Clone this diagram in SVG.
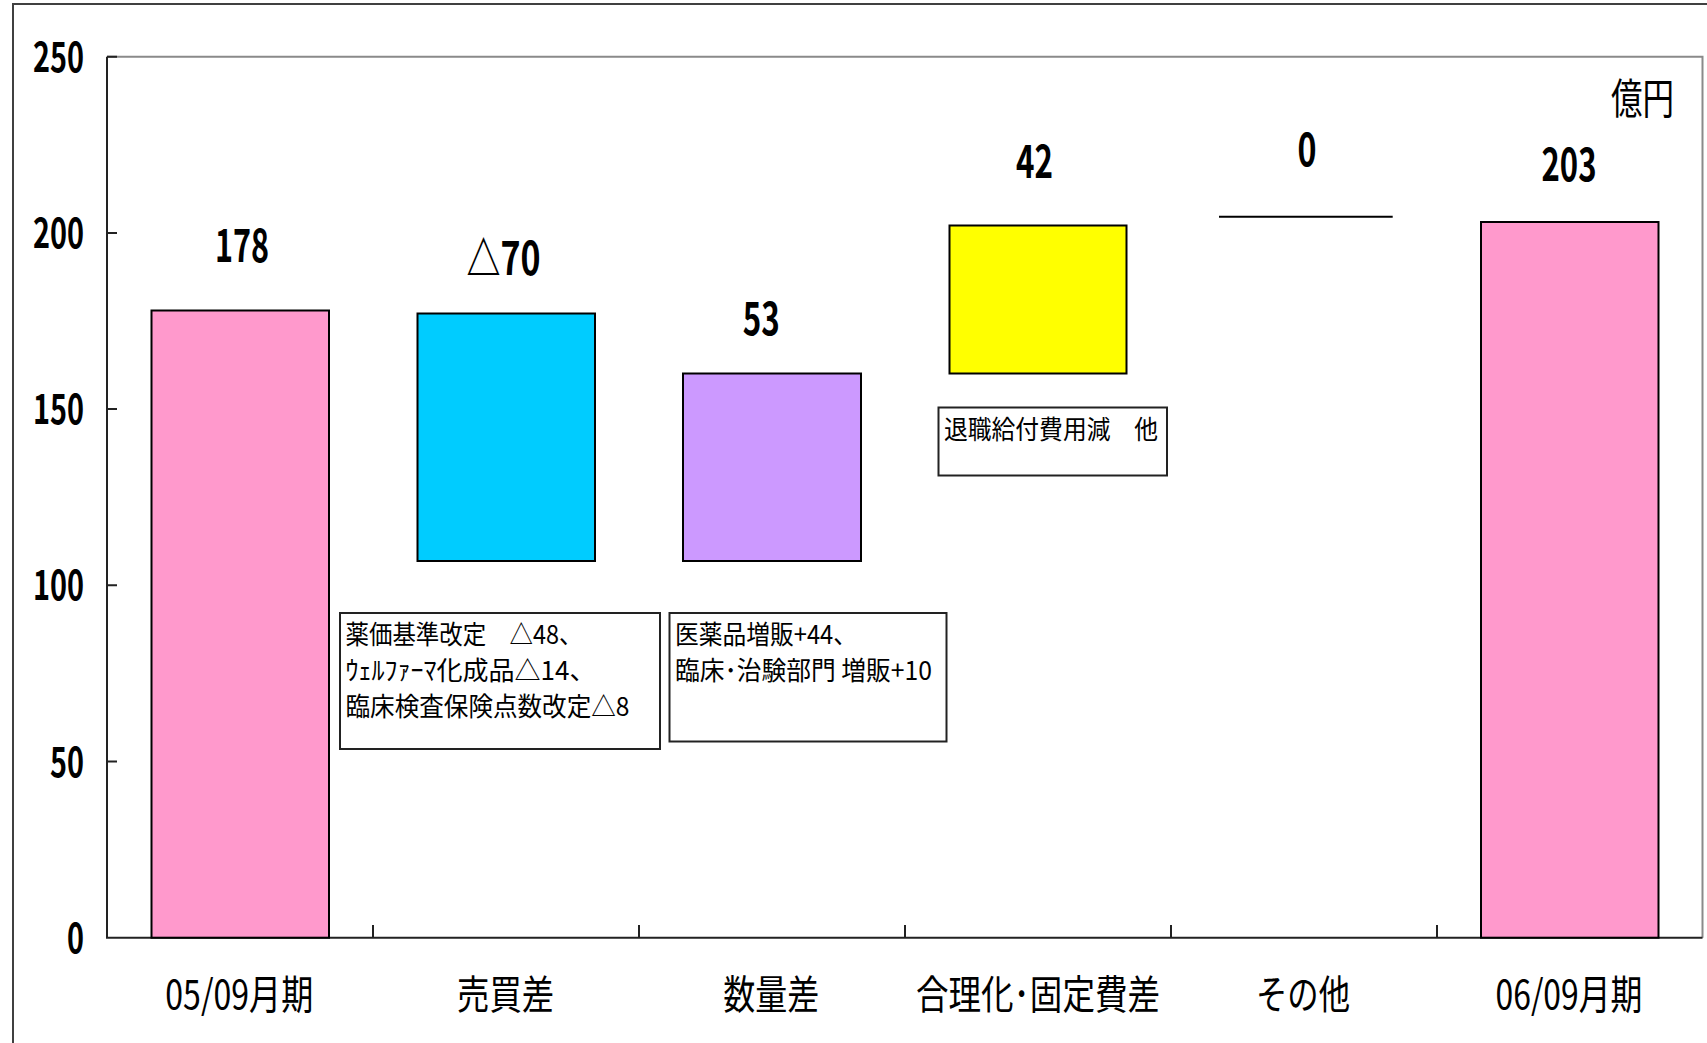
<svg xmlns="http://www.w3.org/2000/svg" width="1707" height="1043" viewBox="0 0 1707 1043">
<style>
text{font-family:"Noto Sans CJK JP","Noto Sans",sans-serif;fill:#000}
.ax{font-size:41px;font-weight:700;text-anchor:end}
.val{font-size:46px;font-weight:700;text-anchor:middle}
.cat{font-size:40px;text-anchor:middle}
.note{font-size:26px}
.bar{stroke:#000;stroke-width:2}
.box{fill:#fff;stroke:#222;stroke-width:2}
.tick{stroke:#222;stroke-width:2}
</style>
<rect x="0" y="0" width="1707" height="1043" fill="#fff"/>
<rect x="13" y="4" width="1740" height="1100" fill="none" stroke="#404040" stroke-width="2"/>
<g id="axes">
<path d="M107 56.7H1702.5V937.7" fill="none" stroke="#8a8a8a" stroke-width="2"/>
<path d="M107 56.7V937.7H1702.5" fill="none" stroke="#222" stroke-width="2"/>
<path class="tick" d="M107 56.7h10M107 232.9h10M107 409.1h10M107 585.3h10M107 761.5h10"/>
<path class="tick" d="M373 925v12.7M639 925v12.7M905 925v12.7M1171 925v12.7M1437 925v12.7"/>
<text class="ax" x="84" y="71.7" textLength="51" lengthAdjust="spacingAndGlyphs">250</text>
<text class="ax" x="84" y="247.9" textLength="51" lengthAdjust="spacingAndGlyphs">200</text>
<text class="ax" x="84" y="424.1" textLength="51" lengthAdjust="spacingAndGlyphs">150</text>
<text class="ax" x="84" y="600.3" textLength="51" lengthAdjust="spacingAndGlyphs">100</text>
<text class="ax" x="84" y="776.5" textLength="34" lengthAdjust="spacingAndGlyphs">50</text>
<text class="ax" x="84" y="952.7" textLength="17" lengthAdjust="spacingAndGlyphs">0</text>
<text x="1611" y="113.5" style="font-size:42px" textLength="63" lengthAdjust="spacingAndGlyphs">億円</text>
</g>
<g id="connectors"></g>
<g id="bar-0509">
<rect class="bar" x="151.5" y="310.5" width="177.5" height="627.2" fill="#FF99CC"/>
<text class="val" x="242" y="262" textLength="54" lengthAdjust="spacingAndGlyphs">178</text>
<text class="cat" x="239.3" y="1009" textLength="148" lengthAdjust="spacingAndGlyphs">05/09月期</text>
</g>
<g id="bar-baibaisa">
<rect class="bar" x="417.5" y="313.5" width="177.5" height="247.5" fill="#00CCFF"/>
<text class="val" x="503.5" y="275" textLength="74" lengthAdjust="spacingAndGlyphs">△70</text>
<text class="cat" x="505.6" y="1009" textLength="97" lengthAdjust="spacingAndGlyphs">売買差</text>
</g>
<g id="bar-suryosa">
<rect class="bar" x="683" y="373.5" width="178" height="187.5" fill="#CC99FF"/>
<text class="val" x="761.3" y="335" textLength="37" lengthAdjust="spacingAndGlyphs">53</text>
<text class="cat" x="771.3" y="1009" textLength="96" lengthAdjust="spacingAndGlyphs">数量差</text>
</g>
<g id="bar-gorika">
<rect class="bar" x="949.5" y="225.5" width="177" height="148" fill="#FFFF00"/>
<text class="val" x="1034.5" y="178" textLength="37" lengthAdjust="spacingAndGlyphs">42</text>
<text class="cat" x="1038" y="1009" textLength="244" lengthAdjust="spacingAndGlyphs">合理化･固定費差</text>
</g>
<g id="bar-sonota">
<line x1="1219" y1="216.7" x2="1392.7" y2="216.7" stroke="#000" stroke-width="2"/>
<text class="val" x="1307" y="166" textLength="19" lengthAdjust="spacingAndGlyphs">0</text>
<text class="cat" x="1303" y="1009" textLength="94" lengthAdjust="spacingAndGlyphs">その他</text>
</g>
<g id="bar-0609">
<rect class="bar" x="1481" y="222" width="177.5" height="715.7" fill="#FF99CC"/>
<text class="val" x="1569" y="181" textLength="55" lengthAdjust="spacingAndGlyphs">203</text>
<text class="cat" x="1569" y="1009" textLength="147" lengthAdjust="spacingAndGlyphs">06/09月期</text>
</g>
<g id="note-baibai">
<rect class="box" x="340" y="613" width="320" height="136"/>
<text class="note" x="345.5" y="644" textLength="237" lengthAdjust="spacingAndGlyphs">薬価基準改定　△48、</text>
<text class="note" x="345.5" y="680" textLength="250" lengthAdjust="spacingAndGlyphs">ｳｪﾙﾌｧｰﾏ化成品△14、</text>
<text class="note" x="345.5" y="716" textLength="284" lengthAdjust="spacingAndGlyphs">臨床検査保険点数改定△8</text>
</g>
<g id="note-suryo">
<rect class="box" x="669.5" y="613" width="277" height="128.5"/>
<text class="note" x="675" y="644" textLength="182" lengthAdjust="spacingAndGlyphs">医薬品増販+44、</text>
<text class="note" x="675" y="680" textLength="257" lengthAdjust="spacingAndGlyphs">臨床･治験部門 増販+10</text>
</g>
<g id="note-gorika">
<rect class="box" x="938.5" y="407.5" width="228.5" height="68"/>
<text class="note" x="944" y="439" textLength="214" lengthAdjust="spacingAndGlyphs">退職給付費用減　他</text>
</g>
</svg>
